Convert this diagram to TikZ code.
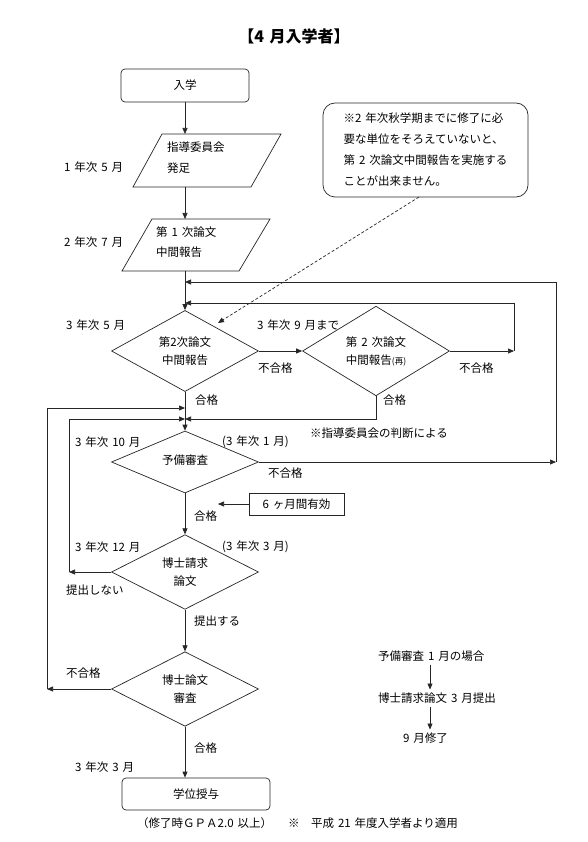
\documentclass[tikz,border=0pt]{standalone}
\usepackage{fontspec}
\setmainfont{Noto Sans CJK JP}[WordSpace=1.5]
\usetikzlibrary{arrows.meta,shapes.geometric}
\tikzset{
  ln/.style={line width=0.7pt, draw=black!85},
  arr/.style={ln, -{Triangle[length=6pt,width=5pt]}},
  txt/.style={anchor=west, inner sep=0pt, font=\fontsize{11.5}{14}\selectfont},
  dia/.style={diamond, ln, minimum width=147pt, minimum height=73pt, inner sep=0pt,
    align=center, font=\fontsize{11.5}{18}\selectfont},
  rbox/.style={rectangle, rounded corners=4pt, ln, inner sep=0pt,
    font=\fontsize{11.5}{14}\selectfont},
  sbox/.style={rectangle, ln, inner sep=0pt, font=\fontsize{11.5}{14}\selectfont}
}
\begin{document}
\begin{tikzpicture}[x=1pt,y=-1pt]
\useasboundingbox (0,0) rectangle (587,842);
\fill[white] (0,0) rectangle (587,842);

\node[font=\bfseries\fontsize{16}{18}\selectfont] (title) at (294,36) {【4 月入学者】};

% entry
\node[rbox, minimum width=128pt, minimum height=33pt] (entry) at (185,85.5) {入学};

% note
\node[rbox, rounded corners=12pt, minimum width=205pt, minimum height=94pt,
  align=left, font=\fontsize{11.5}{21}\selectfont] (note) at (425.5,150)
  {※2 年次秋学期までに修了に必\\要な単位をそろえていないと、\\第 2 次論文中間報告を実施する\\ことが出来ません。};

% parallelogram 1
\coordinate (p1t) at (185,134);
\coordinate (p1b) at (185,187);
\draw[ln] (162,134) -- (281,134) -- (251,187) -- (133,187) -- cycle;
\node[txt] (p1a) at (167,147) {指導委員会};
\node[txt] (p1c) at (167,168) {発足};
\node[txt] (l1) at (64,167) {1 年次 5 月};

% parallelogram 2
\coordinate (p2t) at (185,219);
\coordinate (p2b) at (185,271);
\draw[ln] (152,219) -- (270,219) -- (239,271) -- (122,271) -- cycle;
\node[txt] (p2a) at (156,232) {第 1 次論文};
\node[txt] (p2c) at (156,252) {中間報告};
\node[txt] (l2) at (64,242) {2 年次 7 月};

\draw[arr] (entry) -- (p1t);
\draw[arr] (p1b) -- (p2t);

% diamonds
\node[dia] (d1) at (185,351) {第2次論文\\中間報告};
\node[dia] (d2) at (376,351) {第 2 次論文\\中間報告{\fontsize{8.5}{10}\selectfont(再)}};
\node[dia, minimum height=62pt] (d3) at (185,462) {\raisebox{4pt}{予備審査}};
\node[dia] (d4) at (185,572) {博士請求\\論文};
\node[dia, minimum height=74pt] (d5) at (185,689) {博士論文\\審査};
\node[rbox, minimum width=148pt, minimum height=32pt] (fin) at (196,794) {学位授与};

\coordinate (j1) at (185,282);
\coordinate (j2) at (185,303);
\coordinate (j3) at (185,408);
\coordinate (j4) at (185,419);

\draw[arr] (p2b) -- (d1);
\draw[arr] (d1) -- (d2);
\coordinate (c514) at (514,351);
\draw[arr] (d2) -- (c514);
\draw[arr] (c514) |- (j2);
\coordinate (c556) at (556,462);
\draw[arr] (d3) -- (c556);
\draw[arr] (c556) |- (j1);

\draw[arr] (d1) -- (d3);
\draw[arr] (d2.south) |- (j4);
\coordinate (c69) at (69,572);
\draw[arr] (d4) -- (c69);
\draw[arr] (c69) |- (j4);
\coordinate (c47) at (47,689);
\draw[arr] (d5) -- (c47);
\draw[arr] (c47) |- (j3);

\draw[arr] (d3) -- (d4);
\draw[arr] (d4) -- (d5);
\draw[arr] (d5.south) -- (d5.south |- fin.north);

% six months
\node[sbox, minimum width=95pt, minimum height=22pt] (six) at (296.5,504) {6 ヶ月間有効};
\coordinate (sixtip) at (218,504);
\draw[arr] (six) -- (sixtip);

% dashed
\coordinate (dstart) at (419,197);
\coordinate (dtip) at (218,323);
\draw[arr, dash pattern=on 3pt off 2pt] (dstart) -- (dtip);

% labels
\node[txt] (l3) at (66,325) {3 年次 5 月};
\node[txt] (l4) at (257,325) {3 年次 9 月まで};
\node[txt] (f1) at (258,368) {不合格};
\node[txt] (f2) at (459,368) {不合格};
\node[txt] (g1) at (195,400) {合格};
\node[txt] (g2) at (383,400) {合格};
\node[txt] (jud) at (310,433) {※指導委員会の判断による};
\node[txt] (l5) at (75,442) {3 年次 10 月};
\node[txt] (l6) at (222,442) {(3 年次 1 月)};
\node[txt] (f3) at (268,473) {不合格};
\node[txt] (g3) at (194,516) {合格};
\node[txt] (l7) at (75,547) {3 年次 12 月};
\node[txt] (l8) at (222,547) {(3 年次 3 月)};
\node[txt] (ns) at (66,590) {提出しない};
\node[txt] (ys) at (194,621) {提出する};
\node[txt] (f4) at (66,673) {不合格};
\node[txt] (g4) at (194,748) {合格};
\node[txt] (l9) at (75,767) {3 年次 3 月};
\node[txt] (gpa) at (137,823) {（修了時ＧＰＡ2.0 以上）};
\node[txt] (appl) at (288,823) {※\hspace{1em}平成 21 年度入学者より適用};

% right side
\node[txt, inner sep=3pt] (r1) at (375,656) {予備審査 1 月の場合};
\node[txt, inner sep=3pt] (r2) at (375,698) {博士請求論文 3 月提出};
\node[txt, inner sep=3pt] (r3) at (400,738) {9 月修了};
\coordinate (rx) at (430,0);
\draw[arr] (r1.south -| rx) -- (r2.north -| rx);
\draw[arr] (r2.south -| rx) -- (r3.north -| rx);
\end{tikzpicture}
\end{document}
